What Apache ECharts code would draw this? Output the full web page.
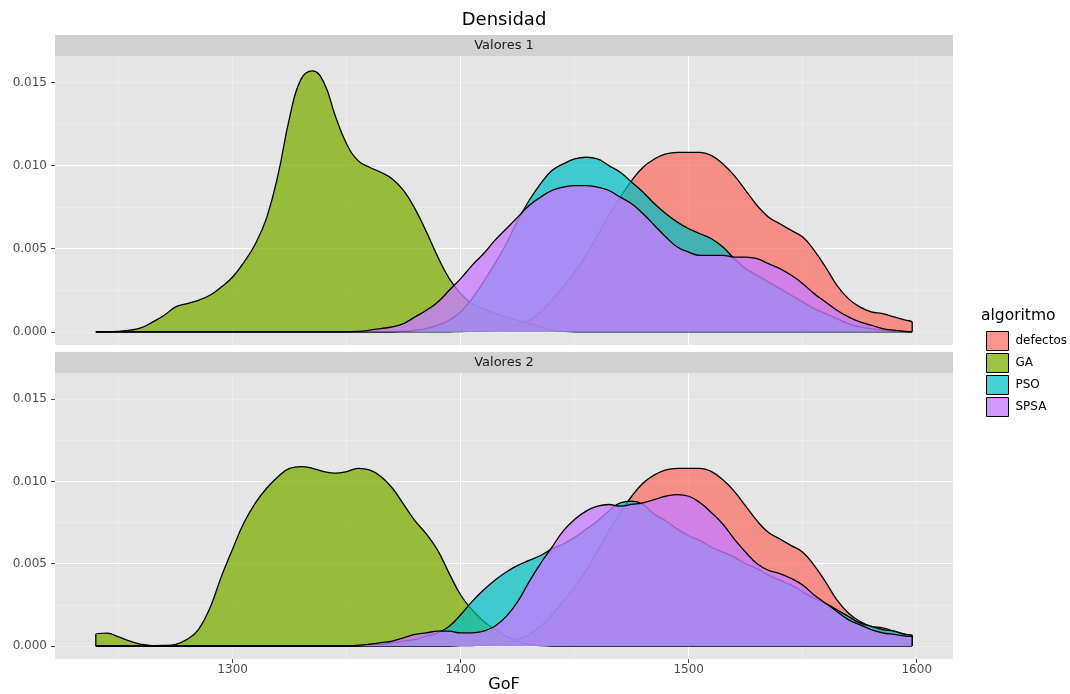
<!DOCTYPE html>
<html><head><meta charset="utf-8">
<script src="https://cdn.jsdelivr.net/npm/echarts@6/dist/echarts.min.js"></script>
<style>html,body{margin:0;padding:0;background:#fff}#c{width:1070px;height:694px}</style>
</head><body><div id="c"></div>
<script>
// ---- DATA ----
const gof = [1240,1245,1250,1255,1260,1265,1270,1275,1280,1285,
  1290,1295,1300,1305,1310,1315,1320,1325,1330,1335,
  1340,1345,1350,1355,1360,1365,1370,1375,1380,1385,
  1390,1395,1400,1405,1410,1415,1420,1425,1430,1435,
  1440,1445,1450,1455,1460,1465,1470,1475,1480,1485,
  1490,1495,1500,1505,1510,1515,1520,1525,1530,1535,
  1540,1545,1550,1555,1560,1565,1570,1575,1580,1585,
  1590,1595,1598];
const xTicks = [1300,1400,1500,1600];
const yTicks = [0,0.005,0.010,0.015];
const algoritmos = ['defectos','GA','PSO','SPSA'];
const panels = ['Valores 1','Valores 2'];

// defectos (same in both panels)
const defectos = [0,0,0,0,0,0,0,0,0,0,
  0,0,0,0,0,0,0,0,0,0,
  0,0,0,0,0,0,0,0,0,0,
  0,0,0.00002,0.00003,0.00005,0.0001,0.0002,0.0004,0.0007,0.0012,
  0.0019,0.0027,0.0036,0.0046,0.0058,0.0070,0.0081,0.0091,0.0099,0.0104,
  0.0107,0.0108,0.0108,0.0108,0.0106,0.0101,0.0094,0.0085,0.0076,0.0069,
  0.0065,0.0061,0.0057,0.0049,0.0039,0.0028,0.0020,0.0015,0.0012,0.0011,
  0.0009,0.0007,0.00056];
// Valores 1
const ga1 = [0,0,0.00003,0.0001,0.00025,0.0006,0.0010,0.0015,0.0017,0.0019,
  0.0022,0.0027,0.0033,0.0042,0.0053,0.0069,0.0095,0.0129,0.0152,0.0157,
  0.0150,0.0130,0.0113,0.0103,0.0099,0.0096,0.0092,0.0085,0.0074,0.0060,
  0.0045,0.0032,0.0023,0.0017,0.0014,0.0011,0.0009,0.0007,0.0005,0.0003,
  0.0001,0.00003,0,0,0,0,0,0,0,0,
  0,0,0,0,0,0,0,0,0,0,
  0,0,0,0,0,0,0,0,0,0,
  0,0,0];
const pso1 = [0,0,0,0,0,0,0,0,0,0,
  0,0,0,0,0,0,0,0,0,0,
  0,0,0,0,0,0,0,0.00003,0.0001,0.0002,
  0.0004,0.0007,0.0012,0.0020,0.0030,0.0041,0.0053,0.0067,0.0079,0.0089,
  0.0097,0.0101,0.0104,0.0105,0.0104,0.0100,0.0096,0.0090,0.0084,0.0077,
  0.0071,0.0066,0.0062,0.0059,0.0056,0.0051,0.0044,0.0038,0.0034,0.0030,
  0.0026,0.0022,0.0018,0.0014,0.0011,0.0008,0.0005,0.0003,0.0002,0.0001,
  0.00005,0.00002,0];
const spsa1 = [0,0,0,0,0,0,0,0,0,0,
  0,0,0,0,0,0,0,0,0,0,
  0,0,0,0.00003,0.0001,0.0002,0.0003,0.0005,0.0009,0.0013,
  0.0018,0.0025,0.0032,0.0040,0.0047,0.0055,0.0062,0.0069,0.0076,0.0081,
  0.0085,0.0087,0.0088,0.0088,0.0087,0.0085,0.0081,0.0077,0.0071,0.0064,
  0.0057,0.0051,0.0048,0.0046,0.0046,0.0046,0.0045,0.0045,0.0044,0.0041,
  0.0038,0.0034,0.0029,0.0023,0.0018,0.0013,0.0009,0.0006,0.0004,0.0002,
  0.0001,0.00003,0];
// Valores 2
const ga2 = [0.00072,0.00078,0.00055,0.0003,0.0001,0.00002,0.00003,0.0001,0.0004,0.0010,
  0.0023,0.0042,0.0059,0.0075,0.0087,0.0096,0.0103,0.0108,0.0109,0.0108,
  0.0106,0.0105,0.0106,0.0108,0.0107,0.0103,0.0096,0.0086,0.0076,0.0068,
  0.0058,0.0044,0.0031,0.0022,0.0015,0.0010,0.0006,0.0003,0.0001,0.00003,
  0,0,0,0,0,0,0,0,0,0,
  0,0,0,0,0,0,0,0,0,0,
  0,0,0,0,0,0,0,0,0,0,
  0,0,0];
const pso2 = [0,0,0,0,0,0,0,0,0,0,
  0,0,0,0,0,0,0,0,0,0,
  0,0,0,0,0.0001,0.0001,0.0002,0.0003,0.0004,0.0006,
  0.0008,0.0012,0.0019,0.0027,0.0034,0.0040,0.0045,0.0049,0.0052,0.0055,
  0.0059,0.0062,0.0066,0.0071,0.0076,0.0082,0.0087,0.0088,0.0086,0.0080,
  0.0076,0.0071,0.0067,0.0064,0.0060,0.0057,0.0054,0.0050,0.0047,0.0043,
  0.0040,0.0037,0.0033,0.0029,0.0026,0.0022,0.0018,0.0014,0.0012,0.0010,
  0.0009,0.0007,0.00066];
const spsa2 = [0,0,0,0,0,0,0,0,0,0,
  0,0,0,0,0,0,0,0,0,0,
  0,0,0,0.00005,0.0001,0.0002,0.0003,0.0005,0.0007,0.0008,
  0.0009,0.0009,0.0008,0.0008,0.0009,0.0012,0.0018,0.0027,0.0039,0.0050,
  0.0060,0.0070,0.0077,0.0082,0.0085,0.0086,0.0085,0.0086,0.0087,0.0089,
  0.0091,0.0092,0.0091,0.0087,0.0081,0.0074,0.0065,0.0057,0.0050,0.0046,
  0.0044,0.0041,0.0037,0.0031,0.0026,0.0021,0.0016,0.0013,0.0010,0.0008,
  0.0007,0.0006,0.00056];

const panelData = [
  [defectos, ga1, pso1, spsa1],
  [defectos, ga2, pso2, spsa2]
];

// ---- STYLE ----
const FONT = 'DejaVu Sans';
const fills = ['rgba(248,118,109,0.78)','rgba(124,174,0,0.74)','rgba(0,191,196,0.72)','rgba(199,124,255,0.78)'];
const XMIN = 1222.1, XMAX = 1615.9, YMIN = -0.00079, YMAX = 0.01659;
const grids = [
  {left:55, top:56, width:898, height:289},
  {left:55, top:373, width:898, height:290}
];

function closed(dens){
  const pts = gof.map((g,i)=>[g, dens[i]]);
  return [[gof[0],0]].concat(pts, [[gof[gof.length-1],0]]);
}

const xAxis = [], yAxis = [], series = [];
grids.forEach((g, p) => {
  const showX = p === 1;
  xAxis.push({type:'value', gridIndex:p, position:'bottom', min:XMIN, max:XMAX,
    minInterval:50, maxInterval:50, z:0,
    axisLine:{show:false,onZero:false}, axisTick:{show:false}, axisLabel:{show:false},
    splitLine:{show:true, showMinLine:false, showMaxLine:false, lineStyle:{color:'#F2F2F2', width:0.6}}});
  xAxis.push({type:'value', gridIndex:p, position:'bottom', min:XMIN, max:XMAX,
    minInterval:100, maxInterval:100, z:1,
    axisLine:{show:false,onZero:false},
    axisTick:{show:showX, length:4, customValues:xTicks, lineStyle:{color:'#4D4D4D', width:1}},
    axisLabel:{show:showX, margin:5, customValues:xTicks, color:'#4D4D4D', fontSize:12, fontFamily:FONT,
      formatter:v => String(Math.round(v))},
    splitLine:{show:true, showMinLine:false, showMaxLine:false, lineStyle:{color:'#FFFFFF', width:1.1}},
    name: showX ? 'GoF' : '', nameLocation:'middle', nameGap:18,
    nameTextStyle:{fontFamily:FONT, fontSize:16, color:'#000', verticalAlign:'top'}});
  yAxis.push({type:'value', gridIndex:p, position:'left', min:YMIN, max:YMAX,
    minInterval:0.0025, maxInterval:0.0025, z:0,
    axisLine:{show:false,onZero:false}, axisTick:{show:false}, axisLabel:{show:false},
    splitLine:{show:true, showMinLine:false, showMaxLine:false, lineStyle:{color:'#F2F2F2', width:0.6}}});
  yAxis.push({type:'value', gridIndex:p, position:'left', min:YMIN, max:YMAX,
    minInterval:0.005, maxInterval:0.005, z:1,
    axisLine:{show:false,onZero:false},
    axisTick:{show:true, length:4, customValues:yTicks, lineStyle:{color:'#4D4D4D', width:1}},
    axisLabel:{show:true, margin:8, customValues:yTicks, color:'#4D4D4D', fontSize:12, fontFamily:FONT,
      formatter:v => Math.abs(v).toFixed(3)},
    splitLine:{show:true, showMinLine:false, showMaxLine:false, lineStyle:{color:'#FFFFFF', width:1.1}}});
  panelData[p].forEach((dens, k) => {
    series.push({
      name: algoritmos[k], type:'line', xAxisIndex:p*2+1, yAxisIndex:p*2+1,
      data: closed(dens), smooth:0.45, symbol:'none', z: 2 + k,
      itemStyle:{color:fills[k]},
      lineStyle:{color:'#000', width:1.3},
      areaStyle:{color:fills[k], opacity:1},
      emphasis:{disabled:true}, silent:true, animation:false
    });
  });
});

const graphic = [];
grids.forEach((g, p) => {
  graphic.push({type:'rect', shape:{x:g.left, y:g.top-21, width:g.width, height:21},
    style:{fill:'#D1D1D1'}, silent:true});
  graphic.push({type:'text', x:g.left + g.width/2, y:g.top-10.5,
    style:{text:panels[p], fontFamily:FONT, fontSize:13, fill:'#1A1A1A',
      align:'center', verticalAlign:'middle', textAlign:'center', textVerticalAlign:'middle'}, silent:true});
});
graphic.push({type:'text', x:504, y:20,
  style:{text:'Densidad', fontFamily:FONT, fontSize:18, fill:'#000',
    align:'center', verticalAlign:'middle', textAlign:'center', textVerticalAlign:'middle'}});
graphic.push({type:'text', x:981, y:316,
  style:{text:'algoritmo', fontFamily:FONT, fontSize:15.5, fill:'#000',
    align:'left', verticalAlign:'middle', textAlign:'left', textVerticalAlign:'middle'}});

const chart = echarts.init(document.getElementById('c'), null, {renderer:'canvas'});
chart.setOption({
  animation:false,
  backgroundColor:'#FFFFFF',
  grid: grids.map(g => Object.assign({show:true, backgroundColor:'#E5E5E5', borderWidth:0}, g)),
  xAxis, yAxis, series, graphic,
  legend:{data:algoritmos, orient:'vertical', left:981, top:326, itemWidth:22, itemHeight:19, itemGap:2,
    icon:'rect', selectedMode:false,
    itemStyle:{borderColor:'#000', borderWidth:1},
    textStyle:{fontFamily:FONT, fontSize:12, color:'#000', padding:[0,0,0,2]}}
});
</script>
</body></html>
